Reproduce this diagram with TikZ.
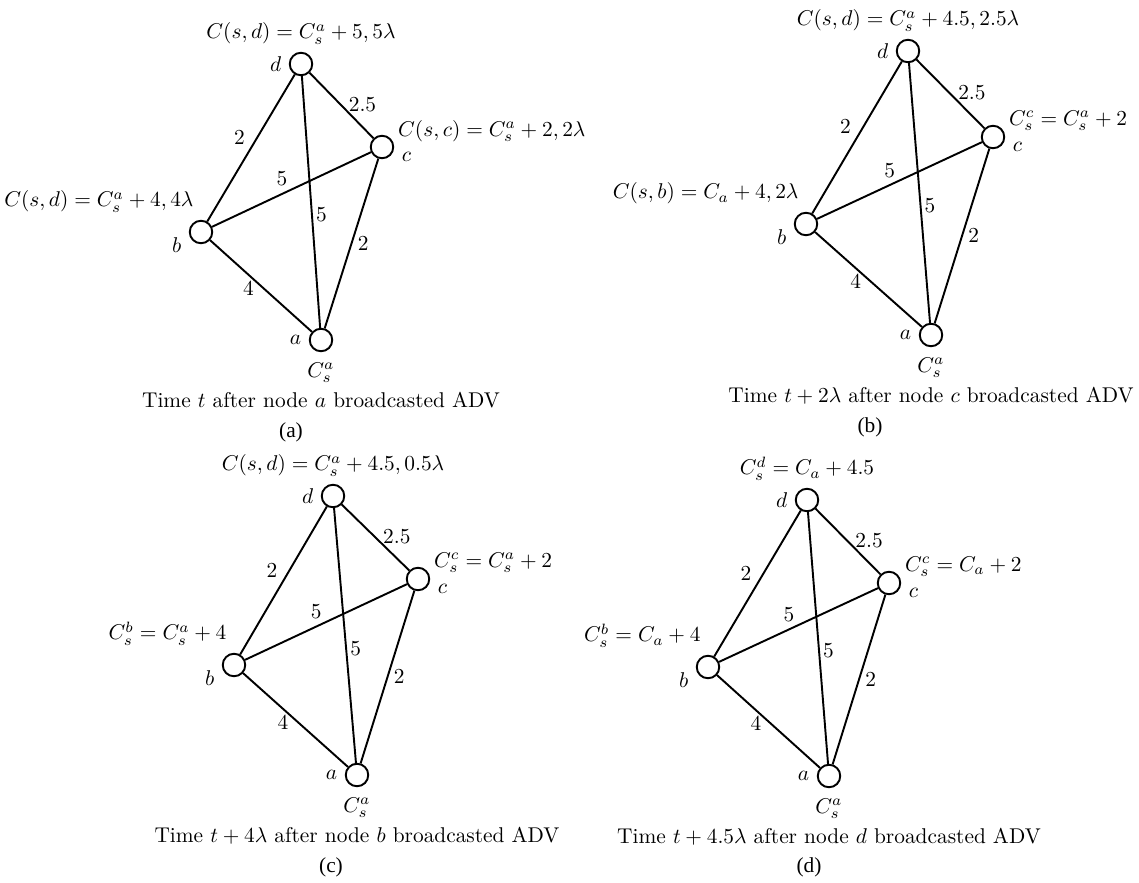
\documentclass[tikz,border=0pt]{standalone}
\usepackage{amsmath}
\usepackage{fontspec}
\newfontfamily\subfont{Liberation Serif}
\usetikzlibrary{positioning}

\begin{document}
\begin{tikzpicture}[
    x=0.01645cm, y=-0.01645cm,
    vertex/.style={
      circle,
      draw,
      line width=0.9pt,
      minimum size=0.37cm,
      inner sep=0pt
    },
    link/.style={line width=0.9pt},
    caption/.style={font=\normalsize},
    subcap/.style={font=\subfont}
  ]
    \useasboundingbox (0,0) rectangle (1139,882);

    % (a)
    \node[vertex, label=left:$a$, label={[label distance=1.5pt]below:$C_s^a$}] (a1) at (321,340) {};
    \node[vertex, label={[yshift=-6.3pt]left:$b$}] (b1) at (201,232) {};
    \node[vertex, label={[yshift=-4.5pt]right:$c$}] (c1) at (382,147) {};
    \node[vertex, label=left:$d$] (d1) at (301,64) {};

    \node[above=0pt of d1] (topa) {$C(s,d) = C_s^a + 5, 5\lambda$};
    \node[right=0pt of c1.north east, yshift=3.5pt] (ca) {$C(s,c) = C_s^a + 2, 2\lambda$};
    \node[anchor=south east] (ba) at (b1.north) {$C(s,d) = C_s^a + 4, 4\lambda$};

    \draw[link] (d1) -- node[pos=.43, left=2pt] {$2$} (b1);
    \draw[link] (d1) -- node[pos=.6, above right, inner sep=0pt] {$2.5$} (c1);
    \draw[link] (b1) -- node[pos=.44, above] {$5$} (c1);
    \draw[link] (d1) -- node[pos=.55, right, inner sep=1.5pt] {$5$} (a1);
    \draw[link] (c1) -- node[pos=.5, right, inner sep=2.5pt] {$2$} (a1);
    \draw[link] (b1) -- node[pos=.44, below left, inner sep=0pt] {$4$} (a1);

    \node[caption, below=15pt of a1] (capa) {Time $t$ after node $a$ broadcasted ADV};
    \node[subcap] (suba) at (291,432) {(a)};

    % (b)
    \node[vertex, label=left:$a$, label={[label distance=1.5pt]below:$C_s^a$}] (a2) at (931,335) {};
    \node[vertex, label={[yshift=-6.3pt]left:$b$}] (b2) at (806,224) {};
    \node[vertex, label={[yshift=-4.5pt]right:$c$}] (c2) at (993,137) {};
    \node[vertex, label=left:$d$] (d2) at (908,51) {};

    \node[above=0pt of d2] (topb) {$C(s,d) = C_s^a + 4.5, 2.5\lambda$};
    \node[right=0pt of c2.north east, yshift=3.5pt] (cb) {$C_s^c = C_s^a + 2$};
    \node[anchor=south east] (bb) at (b2.north) {$C(s,b) = C_a + 4, 2\lambda$};

    \draw[link] (d2) -- node[pos=.43, left=2pt] {$2$} (b2);
    \draw[link] (d2) -- node[pos=.6, above right, inner sep=0pt] {$2.5$} (c2);
    \draw[link] (b2) -- node[pos=.44, above] {$5$} (c2);
    \draw[link] (d2) -- node[pos=.55, right, inner sep=1.5pt] {$5$} (a2);
    \draw[link] (c2) -- node[pos=.5, right, inner sep=2.5pt] {$2$} (a2);
    \draw[link] (b2) -- node[pos=.44, below left, inner sep=0pt] {$4$} (a2);

    \node[caption, below=15pt of a2] (capb) {Time $t+2\lambda$ after node $c$ broadcasted ADV};
    \node[subcap] (subb) at (870,427) {(b)};

    % (c)
    \node[vertex, label=left:$a$, label={[label distance=1.5pt]below:$C_s^a$}] (a3) at (357,775) {};
    \node[vertex, label={[yshift=-6.3pt]left:$b$}] (b3) at (234,665) {};
    \node[vertex, label={[yshift=-4.5pt]right:$c$}] (c3) at (418,579) {};
    \node[vertex, label=left:$d$] (d3) at (333,496) {};

    \node[above=0pt of d3] (topc) {$C(s,d) = C_s^a + 4.5, 0.5\lambda$};
    \node[right=0pt of c3.north east, yshift=3.5pt] (cc) {$C_s^c = C_s^a + 2$};
    \node[anchor=south east] (bc) at (b3.north) {$C_s^b = C_s^a + 4$};

    \draw[link] (d3) -- node[pos=.43, left=2pt] {$2$} (b3);
    \draw[link] (d3) -- node[pos=.6, above right, inner sep=0pt] {$2.5$} (c3);
    \draw[link] (b3) -- node[pos=.44, above] {$5$} (c3);
    \draw[link] (d3) -- node[pos=.55, right, inner sep=1.5pt] {$5$} (a3);
    \draw[link] (c3) -- node[pos=.5, right, inner sep=2.5pt] {$2$} (a3);
    \draw[link] (b3) -- node[pos=.44, below left, inner sep=0pt] {$4$} (a3);

    \node[caption, below=15pt of a3] (capc) {Time $t+4\lambda$ after node $b$ broadcasted ADV};
    \node[subcap] (subc) at (331,867) {(c)};

    % (d)
    \node[vertex, label=left:$a$, label={[label distance=1.5pt]below:$C_s^a$}] (a4) at (829,776) {};
    \node[vertex, label={[yshift=-6.3pt]left:$b$}] (b4) at (708,667) {};
    \node[vertex, label={[yshift=-4.5pt]right:$c$}] (c4) at (889,583) {};
    \node[vertex, label=left:$d$] (d4) at (807,500) {};

    \node[above=0pt of d4] (topd) {$C_s^d = C_a + 4.5$};
    \node[right=0pt of c4.north east, yshift=3.5pt] (cd) {$C_s^c = C_a + 2$};
    \node[anchor=south east] (bd) at (b4.north) {$C_s^b = C_a + 4$};

    \draw[link] (d4) -- node[pos=.43, left=2pt] {$2$} (b4);
    \draw[link] (d4) -- node[pos=.6, above right, inner sep=0pt] {$2.5$} (c4);
    \draw[link] (b4) -- node[pos=.44, above] {$5$} (c4);
    \draw[link] (d4) -- node[pos=.55, right, inner sep=1.5pt] {$5$} (a4);
    \draw[link] (c4) -- node[pos=.5, right, inner sep=2.5pt] {$2$} (a4);
    \draw[link] (b4) -- node[pos=.44, below left, inner sep=0pt] {$4$} (a4);

    \node[caption, below=15pt of a4] (capd) {Time $t+4.5\lambda$ after node $d$ broadcasted ADV};
    \node[subcap] (subd) at (809,867) {(d)};
  \end{tikzpicture}
\end{document}
